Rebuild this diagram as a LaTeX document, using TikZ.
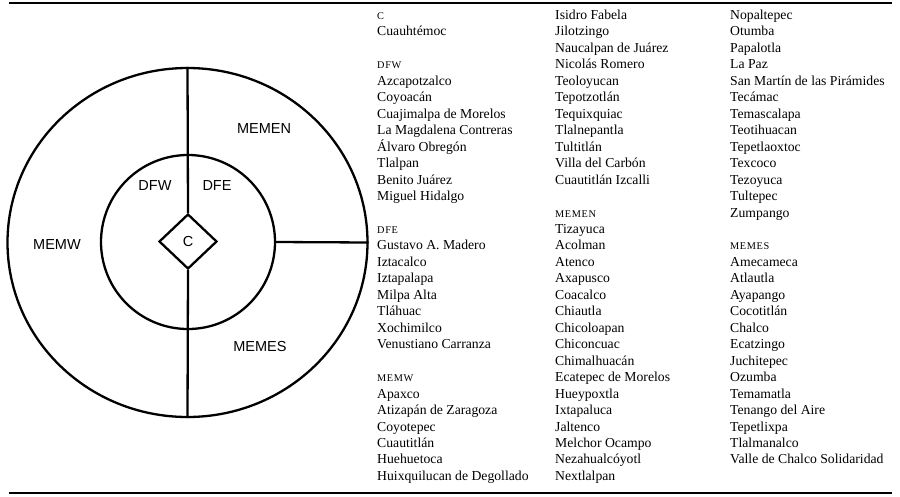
\documentclass[tikz,border=0pt]{standalone}
\usepackage{fontspec}
\setmainfont{Liberation Serif}
\newfontfamily\labelfont{Liberation Sans}
\newfontfamily\headfont[LetterSpace=6]{Liberation Serif}
\usetikzlibrary{shapes.geometric}
\begin{document}
\begin{tikzpicture}[x=1pt,y=-1pt,
  ring/.style={draw,line width=2.3pt,inner sep=0pt},
  divider/.style={line width=2.3pt},
  rulestyle/.style={line width=2.6pt},
  region/.style={inner sep=0pt,font=\labelfont\fontsize{14.5}{17}\selectfont},
  entry/.style={anchor=base west,inner sep=0pt,font=\fontsize{13.7}{16}\selectfont},
  header/.style={anchor=base west,inner sep=0pt,font=\headfont\fontsize{10.3}{12}\selectfont}]
\useasboundingbox (0,0) rectangle (900,496);
% rules
\coordinate (tl) at (9,3); \coordinate (tr) at (892,3);
\coordinate (bl) at (9,493); \coordinate (br) at (892,493);
\draw[rulestyle] (tl) -- (tr);
\draw[rulestyle] (bl) -- (br);
% diagram
\node[ring,ellipse,minimum width=360pt,minimum height=349pt] (outer) at (187.5,242.5) {};
\node[ring,circle,minimum size=174pt] (inner) at (188,242) {};
\node[ring,diamond,minimum width=58pt,minimum height=55pt,font=\labelfont\fontsize{14.5}{17}\selectfont] (C) at (188,241.5) {C};
\draw[divider] (outer.north) -- (C.north);
\draw[divider] (C.south) -- (outer.south);
\draw[divider] (inner.east) -- (outer.east);
\node[region] (lMEMEN) at (264,129) {MEMEN};
\node[region] (lDFW) at (155,186) {DFW};
\node[region] (lDFE) at (217,186) {DFE};
\node[region] (lMEMW) at (57,245) {MEMW};
\node[region] (lMEMES) at (260,347) {MEMES};
% column 1
\node[header] (hC) at (377,{19.5+16.46*0}) {C};
\node[entry] (a-1) at (377,{19.5+16.46*1}) {Cuauhtémoc};
\node[header] (hDFW) at (377,{19.5+16.46*3}) {DFW};
\foreach \t [count=\k from 4] in {Azcapotzalco,Coyoacán,Cuajimalpa de Morelos,La Magdalena Contreras,Álvaro Obregón,Tlalpan,Benito Juárez,Miguel Hidalgo}
  \node[entry] (a-\k) at (377,{19.5+16.46*\k}) {\t};
\node[header] (hDFE) at (377,{19.5+16.46*13}) {DFE};
\foreach \t [count=\k from 14] in {Gustavo A. Madero,Iztacalco,Iztapalapa,Milpa Alta,Tláhuac,Xochimilco,Venustiano Carranza}
  \node[entry] (a-\k) at (377,{19.5+16.46*\k}) {\t};
\node[header] (hMEMW) at (377,{19.5+16.46*22}) {MEMW};
\foreach \t [count=\k from 23] in {Apaxco,Atizapán de Zaragoza,Coyotepec,Cuautitlán,Huehuetoca,Huixquilucan de Degollado}
  \node[entry] (a-\k) at (377,{19.5+16.46*\k}) {\t};
% column 2
\foreach \t [count=\k from 0] in {Isidro Fabela,Jilotzingo,Naucalpan de Juárez,Nicolás Romero,Teoloyucan,Tepotzotlán,Tequixquiac,Tlalnepantla,Tultitlán,Villa del Carbón,Cuautitlán Izcalli}
  \node[entry] (b-\k) at (555,{19.5+16.46*\k}) {\t};
\node[header] (hMEMEN) at (555,{19.5+16.46*12}) {MEMEN};
\foreach \t [count=\k from 13] in {Tizayuca,Acolman,Atenco,Axapusco,Coacalco,Chiautla,Chicoloapan,Chiconcuac,Chimalhuacán,Ecatepec de Morelos,Hueypoxtla,Ixtapaluca,Jaltenco,Melchor Ocampo,Nezahualcóyotl,Nextlalpan}
  \node[entry] (b-\k) at (555,{19.5+16.46*\k}) {\t};
% column 3
\foreach \t [count=\k from 0] in {Nopaltepec,Otumba,Papalotla,La Paz,San Martín de las Pirámides,Tecámac,Temascalapa,Teotihuacan,Tepetlaoxtoc,Texcoco,Tezoyuca,Tultepec,Zumpango}
  \node[entry] (c-\k) at (730,{19.5+16.46*\k}) {\t};
\node[header] (hMEMES) at (730,{19.5+16.46*14}) {MEMES};
\foreach \t [count=\k from 15] in {Amecameca,Atlautla,Ayapango,Cocotitlán,Chalco,Ecatzingo,Juchitepec,Ozumba,Temamatla,Tenango del Aire,Tepetlixpa,Tlalmanalco,Valle de Chalco Solidaridad}
  \node[entry] (c-\k) at (730,{19.5+16.46*\k}) {\t};
\end{tikzpicture}
\end{document}
